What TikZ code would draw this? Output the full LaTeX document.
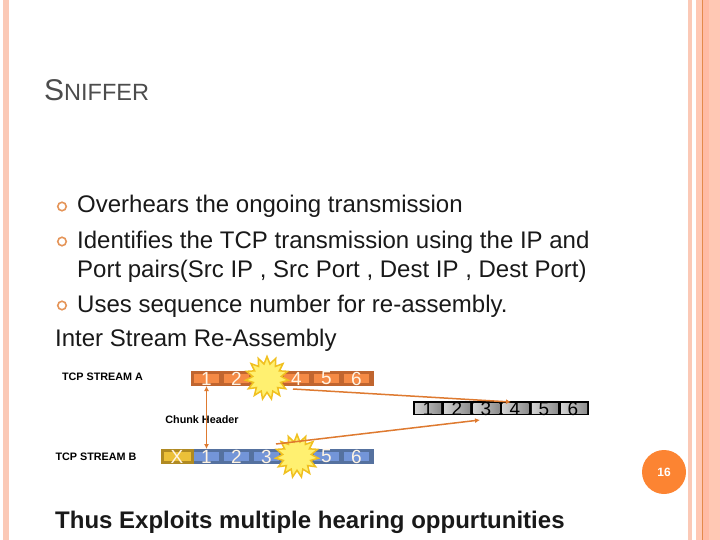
\documentclass[tikz,border=0pt]{standalone}
\usepackage{fontspec}
\setmainfont{Liberation Sans}
\usetikzlibrary{arrows.meta,shapes.geometric,shapes.misc}
\definecolor{strip}{HTML}{FBC9B6}
\definecolor{stripd}{HTML}{FFBBA5}
\definecolor{stripl}{HTML}{FFC8B4}
\definecolor{oline}{HTML}{DE7A30}
\definecolor{oframe}{HTML}{C0652F}
\definecolor{ocell}{HTML}{F58A45}
\definecolor{bframe}{HTML}{55719F}
\definecolor{bcell}{HTML}{7395D8}
\definecolor{yframe}{HTML}{B08A22}
\definecolor{ycell}{HTML}{ECC038}
\definecolor{badge}{HTML}{FC8432}
\definecolor{burstfill}{HTML}{FFF070}
\definecolor{burstedge}{HTML}{F0C020}
\definecolor{cream}{HTML}{FFF4E4}
\tikzset{
 bodytext/.style={anchor=base west,inner sep=0pt,font=\fontsize{24}{26}\selectfont,text=black!90},
 labeltext/.style={anchor=center,inner sep=0pt,font=\fontsize{10.8}{12}\bfseries\selectfont,text=black},
 cellnum/.style={anchor=center,inner sep=0pt,font=\fontsize{19}{20}\selectfont},
 burst/.style={star,star points=15,star point ratio=1.5,draw=burstedge,line width=1.5pt,fill=burstfill,inner sep=0pt,minimum size=43pt},
 arrowline/.style={draw=oline,line width=1.5pt,-{Latex[length=5pt,width=5pt]}},
 bullet/.style={circle,draw=oline!80,line width=1.6pt,fill=white,minimum size=8.5pt,inner sep=0pt},
 graycell/.style={left color=gray!35,right color=gray!90},
}
\begin{document}
\begin{tikzpicture}[x=1pt,y=-1pt]
\useasboundingbox (0,0) rectangle (720,540);
% decorative strips
\fill[strip] (3,0) rectangle (9,540);
\fill[strip] (688,0) rectangle (692,540);
\fill[stripl] (696,0) rectangle (720,540);
\fill[stripd] (703,0) rectangle (709,540);
\fill[oline!80!strip] (702,0) rectangle (703.2,540);
% title
\node[anchor=base west,inner sep=0pt,text=black!70] (title) at (44,101) {\fontsize{30}{32}\selectfont S\fontsize{23.5}{26}\selectfont NIFFER};
% body
\node[bullet] (b1) at (62,206.5) {};
\node[bullet] (b2) at (62,241.5) {};
\node[bullet] (b3) at (62,305.5) {};
\node[bodytext] (t1) at (77,213) {Overhears the ongoing transmission};
\node[bodytext] (t2) at (77,248) {Identifies the TCP transmission using the IP and};
\node[bodytext] (t3) at (77,277) {Port pairs(Src IP , Src Port , Dest IP , Dest Port)};
\node[bodytext] (t4) at (77,312) {Uses sequence number for re-assembly.};
\node[bodytext] (t5) at (55,346) {Inter Stream Re-Assembly};
% labels
\node[labeltext] (la) at (102.5,377) {TCP STREAM A};
\node[labeltext] (lb) at (96,457) {TCP STREAM B};
% stream A
\fill[oframe] (191,371) rectangle (374,386);
\foreach \i/\n in {0/1,1/2,2/,3/4,4/5,5/6}{
  \fill[ocell] ({194+30*\i},374) rectangle ({219+30*\i},383);
  \node[cellnum,text=cream] (a\i) at ({206.5+30*\i},378.5) {\n};
}
% stream B
\fill[bframe] (191,449) rectangle (374,464);
\fill[yframe] (161,449) rectangle (194,464);
\fill[ycell] (164,452) rectangle (191,461);
\node[cellnum,text=cream] (bx) at (177,456.5) {X};
\foreach \i/\n in {0/1,1/2,2/3,3/,4/5,5/6}{
  \fill[bcell] ({194+30*\i},452) rectangle ({219+30*\i},461);
  \node[cellnum,text=cream] (c\i) at ({206.5+30*\i},456.5) {\n};
}
% merged stream
\fill[black] (413,401) rectangle (589,415);
\foreach \i/\n in {0/1,1/2,2/3,3/4,4/5,5/6}{
  \fill[graycell] ({415+29.2*\i},403) rectangle ({441+29.2*\i},413);
  \node[cellnum,text=black] (g\i) at ({428+29*\i},409) {\n};
}
% bursts
\node[burst] (sa) at (267,378) {};
\node[burst] (sb) at (297,456) {};
% chunk header
\node[labeltext] (ch) at (202,419.5) {Chunk Header};
% arrows
\draw[arrowline,{Latex[length=5pt,width=5pt]}-{Latex[length=5pt,width=5pt]}] (a0.center |- 207,386) -- (c0.center |- 207,449);
\coordinate (fa) at (293,389);
\coordinate (fb) at (276,444);
\coordinate (ta) at (511,402);
\coordinate (tb) at (480,420);
\draw[arrowline] (fa) -- (ta);
\draw[arrowline] (fb) -- (tb);
% footer
\node[anchor=base west,inner sep=0pt,font=\fontsize{24}{26}\bfseries\selectfont,text=black!90] (foot) at (55,528) {Thus Exploits multiple hearing oppurtunities};
% page number
\node[circle,fill=badge,minimum size=44pt,inner sep=0pt,text=white,font=\fontsize{12}{13}\bfseries\selectfont] (pg) at (664,472) {16};
\end{tikzpicture}
\end{document}
